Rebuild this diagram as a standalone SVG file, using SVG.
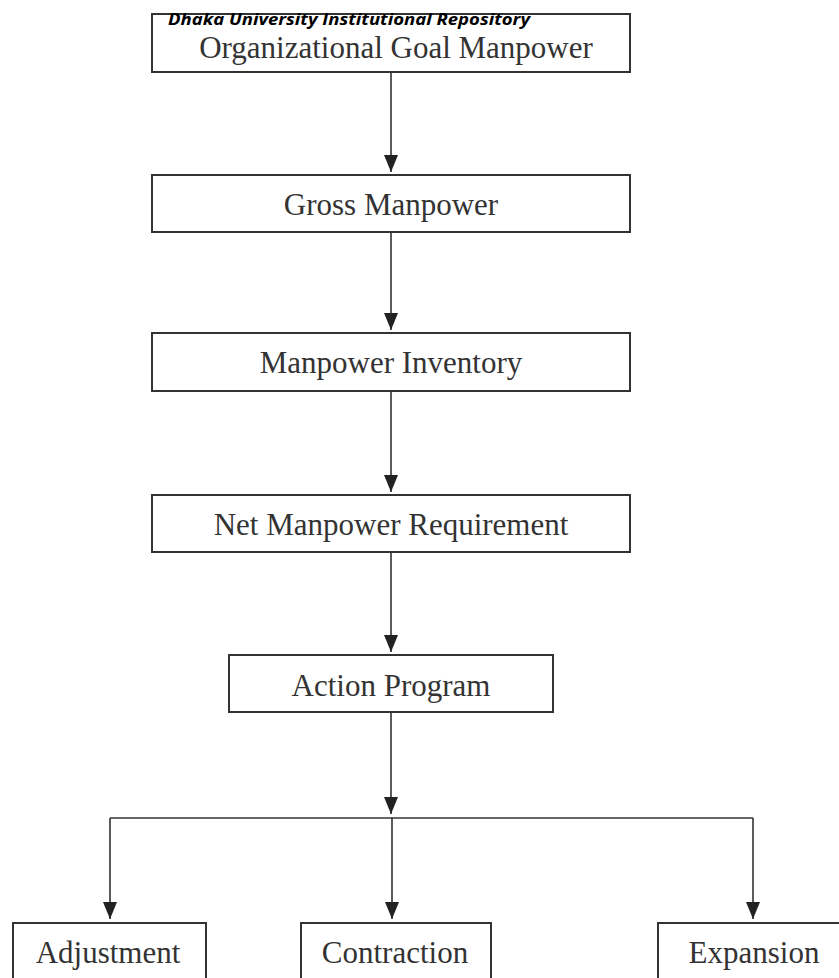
<svg xmlns="http://www.w3.org/2000/svg" width="839" height="978" viewBox="0 0 839 978">
<defs>
<style>
.box{fill:#fff;stroke:#333;stroke-width:2}
.lbl{font-family:"Liberation Serif","Times New Roman",serif;font-size:31px;fill:#333;text-anchor:middle}
.conn{stroke:#333;stroke-width:1.6;fill:none}
.hdr{font-family:"Open Sans","Liberation Sans",sans-serif;font-size:16px;font-weight:bold;font-style:italic;fill:#000}
</style>
<marker id="tri" viewBox="0 0 17 14" refX="17" refY="7" markerWidth="17" markerHeight="14" markerUnits="userSpaceOnUse" orient="auto">
<path d="M0,0 L17,7 L0,14 Z" fill="#222"/>
</marker>
</defs>
<rect width="839" height="978" fill="#fff"/>
<g id="connectors">
<line class="conn" x1="391" y1="72" x2="391" y2="172" marker-end="url(#tri)"/>
<line class="conn" x1="391" y1="232" x2="391" y2="330" marker-end="url(#tri)"/>
<line class="conn" x1="391" y1="391" x2="391" y2="492" marker-end="url(#tri)"/>
<line class="conn" x1="391" y1="552" x2="391" y2="652" marker-end="url(#tri)"/>
<line class="conn" x1="391" y1="712" x2="391" y2="814" marker-end="url(#tri)"/>
<line class="conn" x1="110" y1="818" x2="753" y2="818"/>
<line class="conn" x1="110" y1="818" x2="110" y2="919" marker-end="url(#tri)"/>
<line class="conn" x1="392" y1="818" x2="392" y2="919" marker-end="url(#tri)"/>
<line class="conn" x1="753" y1="818" x2="753" y2="919" marker-end="url(#tri)"/>
</g>
<g id="n1">
<rect class="box" x="152" y="14" width="478" height="58"/>
<text class="lbl" x="396" y="58" font-size="31">Organizational Goal Manpower</text>
</g>
<g id="header">
<text class="hdr" x="168" y="25" textLength="362" lengthAdjust="spacingAndGlyphs">Dhaka University Institutional Repository</text>
</g>
<g id="n2">
<rect class="box" x="152" y="175" width="478" height="57"/>
<text class="lbl" x="391" y="215">Gross Manpower</text>
</g>
<g id="n3">
<rect class="box" x="152" y="333" width="478" height="58"/>
<text class="lbl" x="391" y="373">Manpower Inventory</text>
</g>
<g id="n4">
<rect class="box" x="152" y="495" width="478" height="57"/>
<text class="lbl" x="391" y="535">Net Manpower Requirement</text>
</g>
<g id="n5">
<rect class="box" x="229" y="655" width="324" height="57"/>
<text class="lbl" x="391" y="696">Action Program</text>
</g>
<g id="n6">
<rect class="box" x="13" y="923" width="193" height="70"/>
<text class="lbl" x="108" y="963">Adjustment</text>
</g>
<g id="n7">
<rect class="box" x="301" y="923" width="190" height="70"/>
<text class="lbl" x="395" y="963">Contraction</text>
</g>
<g id="n8">
<rect class="box" x="658" y="923" width="195" height="70"/>
<text class="lbl" x="754" y="963">Expansion</text>
</g>
</svg>
